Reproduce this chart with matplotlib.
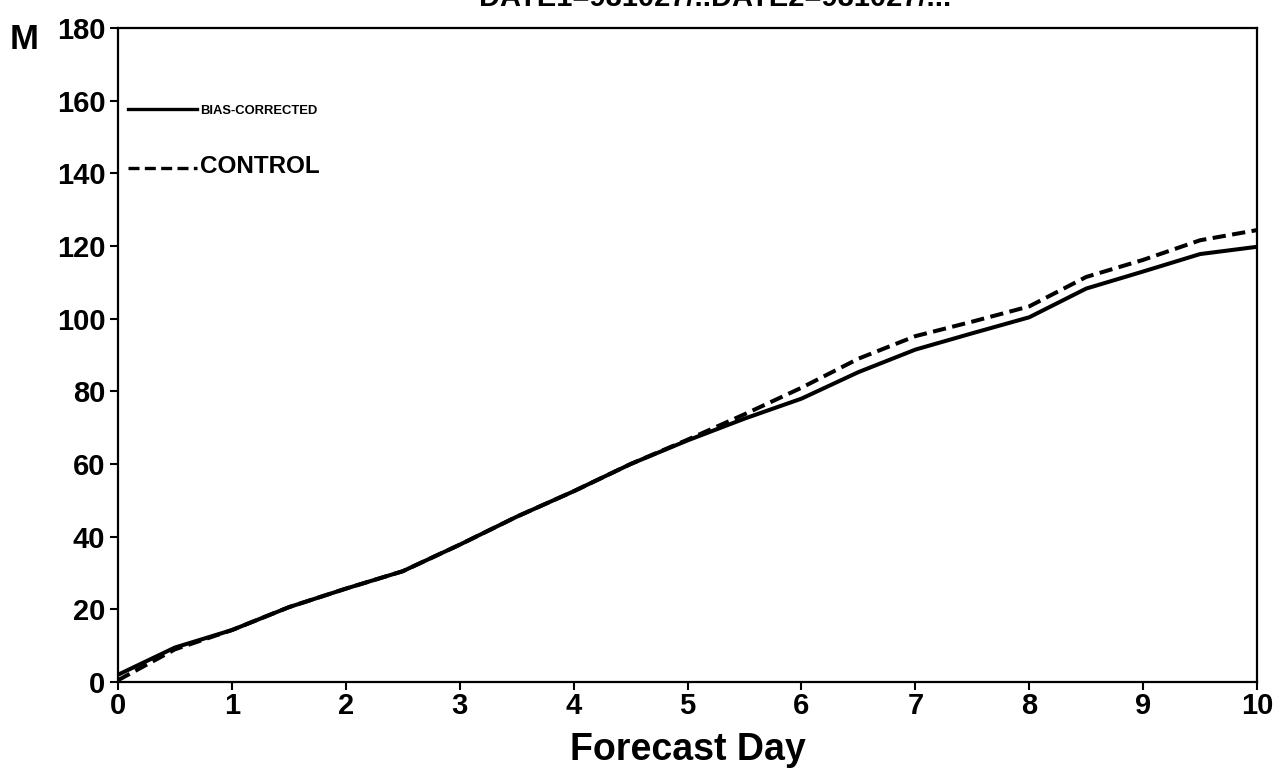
import matplotlib.pyplot as plt

# forecast day (half-day steps) and the two error curves
days = [0, 0.5, 1, 1.5, 2, 2.5, 3, 3.5, 4, 4.5, 5,
        5.5, 6, 6.5, 7, 7.5, 8, 8.5, 9, 9.5, 10]
bias_corrected = [2, 9.5, 14.3, 20.6, 25.7, 30.5, 37.8, 45.5, 52.5, 60, 66.5,
                  72.5, 78, 85.3, 91.5, 96, 100.4, 108.3, 113, 117.8, 119.8]
control = [0.5, 9, 14.3, 20.6, 25.7, 30.5, 37.8, 45.5, 52.5, 60, 66.7,
           73.7, 81, 89, 95.2, 99.2, 103.4, 111.5, 116.2, 121.6, 124.4]

x_ticks = list(range(0, 11))
y_ticks = list(range(0, 181, 20))

plt.rcParams['font.family'] = ['Liberation Sans', 'DejaVu Sans']
plt.rcParams['font.weight'] = 'bold'

fig = plt.figure(figsize=(12.88, 7.8), dpi=100)
ax = fig.add_axes([0.0916, 0.1256, 0.8844, 0.8384])

ax.plot(days, bias_corrected, color='black', lw=2.9, label='BIAS-CORRECTED')
ax.plot(days, control, color='black', lw=2.9, linestyle=(0, (3.3, 1.6)),
        label='CONTROL')

ax.set_xlim(0, 10)
ax.set_ylim(0, 180)
ax.set_xticks(x_ticks)
ax.set_yticks(y_ticks)
ax.tick_params(axis='both', direction='out', length=6, width=1.5,
               labelsize=21, pad=3)
ax.tick_params(axis='x', pad=1)
for s in ax.spines.values():
    s.set_linewidth(1.6)

ax.set_xlabel('Forecast Day', fontsize=27, fontweight='bold', labelpad=9)
fig.text(0.019, 0.949, 'M', fontsize=25, fontweight='bold',
         ha='center', va='center')

# title sits mostly above the top edge of the page
fig.text(0.555, 0.992, 'DATE1=981027/..DATE2=981027/...', fontsize=21,
         fontweight='bold', ha='center', va='baseline')

leg = ax.legend(loc='upper left', bbox_to_anchor=(0.0, 0.899), frameon=False,
                handlelength=5.0, handletextpad=0.2, labelspacing=2.75,
                borderaxespad=0.3)
texts = leg.get_texts()
texts[0].set_fontsize(9.4)
texts[1].set_fontsize(17.5)
for h in leg.get_lines():
    h.set_linewidth(2.4)

fig.savefig('out.png', dpi=100)
